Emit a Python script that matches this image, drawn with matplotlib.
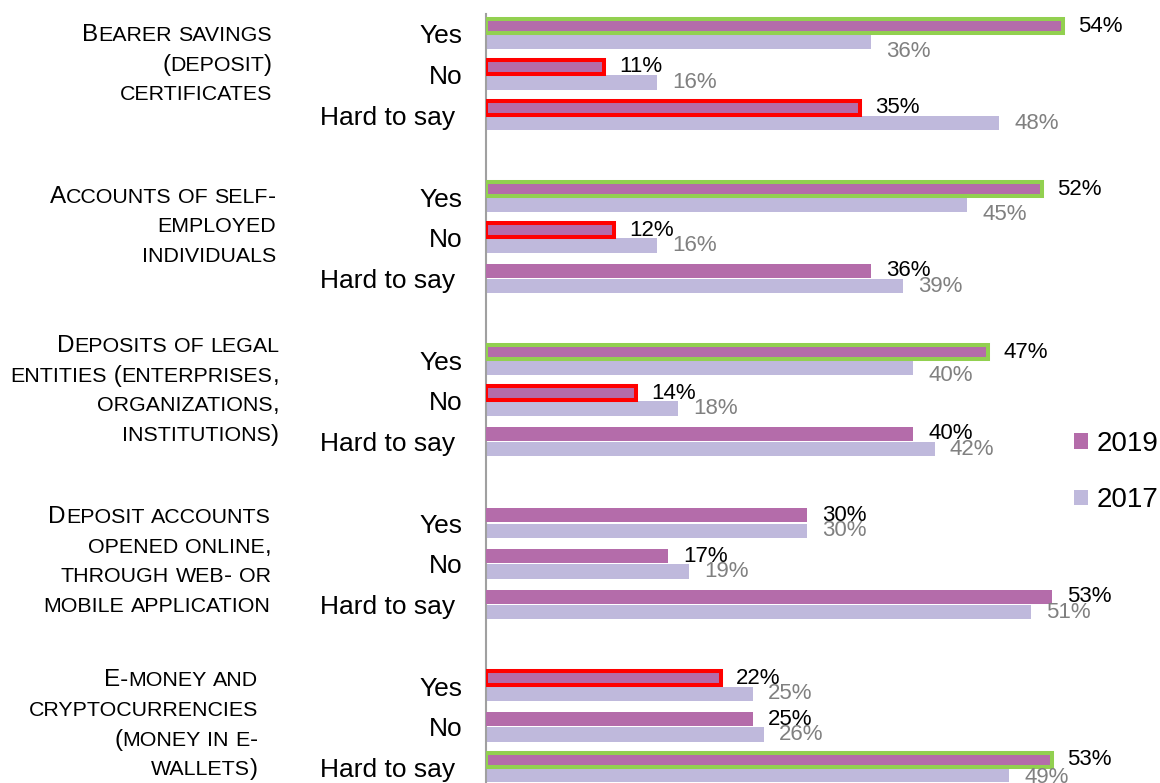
import matplotlib
matplotlib.use("Agg")
import matplotlib.pyplot as plt
from matplotlib.offsetbox import TextArea, HPacker, AnnotationBbox
from matplotlib.transforms import blended_transform_factory
from matplotlib.patches import Patch

# ---------------- data ----------------
categories = [
    "Bearer savings\n(deposit)\ncertificates",
    "Accounts of self-\nemployed\nindividuals",
    "Deposits of legal\nentities (enterprises,\norganizations,\ninstitutions)",
    "Deposit accounts\nopened online,\nthrough web- or\nmobile application",
    "E-money and\ncryptocurrencies\n(money in e-\nwallets)",
]
answers = ["Yes", "No", "Hard to say "]
values_2019 = [54, 11, 35, 52, 12, 36, 47, 14, 40, 30, 17, 53, 22, 25, 53]
values_2017 = [36, 16, 48, 45, 16, 39, 40, 18, 42, 30, 19, 51, 25, 26, 49]
highlight_2019 = ["g", "r", "r", "g", "r", None, "g", "r", None,
                  None, None, None, "r", None, "g"]
series_names = ["2019", "2017"]

# ---------------- style / layout ----------------
C19 = "#B46CAA"
C17 = "#BFB9DC"
OUT = {"g": "#92D050", "r": "#FF0000", None: "none"}
FONT = "Liberation Sans"
plt.rcParams["font.family"] = [FONT, "DejaVu Sans"]

# label placement tweaks (pixels), as in the reference
lab17_dy = [10, 0, 0, 10, 0, 0, 8, 0, 0, 0, 0, 0, 0, 0, 2]
cat_right_px = [272, 276, 279, 271, 258]
cat_shift = [-0.25, -0.27, -0.25, -0.06, -0.05]

W, H = 1160, 783
fig = plt.figure(figsize=(W / 100, H / 100), dpi=100)
ax = fig.add_axes([486 / W, (H - 788) / H, 641 / W, (788 - 13.6) / H])

slots = []
for g in range(len(categories)):
    for r in range(len(answers)):
        slots.append(g * 4 + r)

off, bh = 0.19, 0.35
y19 = [s - off for s in slots]
y17 = [s + off for s in slots]

ax.barh(y17, values_2017, height=bh, color=C17, linewidth=0, zorder=2)
ax.barh(y19, values_2019, height=bh, color=C19,
        edgecolor=[OUT[h] for h in highlight_2019],
        linewidth=[2.9 if h else 0 for h in highlight_2019], zorder=3)

ax.set_xlim(0, 60)
ax.set_ylim(18.5, -0.5)
ax.set_xticks([])
ax.set_yticks(slots)
ax.set_yticklabels(answers * len(categories), fontsize=19)
ax.tick_params(axis="y", length=0, pad=17)
for s in ["top", "right", "bottom"]:
    ax.spines[s].set_visible(False)
ax.spines["left"].set_color("#A0A0A0")
ax.spines["left"].set_linewidth(1.5)
ax.patch.set_alpha(0)

# value labels
for v, y in zip(values_2019, y19):
    ax.annotate(f"{v}%", (v, y), xytext=(11, 0), textcoords="offset points",
                ha="left", va="center", fontsize=16, color="black", zorder=5)
for v, y, d in zip(values_2017, y17, lab17_dy):
    ax.annotate(f"{v}%", (v, y), xytext=(11, -d * 0.72),
                textcoords="offset points",
                ha="left", va="center", fontsize=16, color="#808080", zorder=5)

# small-caps category labels
BIG, SMALL = 17.5, 15.4


def smallcaps_line(line):
    segs = []
    for ch in line:
        small = ch.islower()
        t = ch.upper() if small else ch
        if segs and segs[-1][1] == small:
            segs[-1][0] += t
        else:
            segs.append([t, small])
    kids = [TextArea(t, textprops=dict(fontsize=SMALL if sm else BIG,
                                       family=FONT, color="black"))
            for t, sm in segs]
    return HPacker(children=kids, align="baseline", pad=0, sep=0)


trans = blended_transform_factory(fig.transFigure, ax.transData)
pitch = 21.3  # points between lines
for g, cat in enumerate(categories):
    lines = cat.split("\n")
    n = len(lines)
    yc = g * 4 + 1 + cat_shift[g]
    for i, ln in enumerate(lines):
        dy = ((n - 1) / 2 - i) * pitch
        ab = AnnotationBbox(smallcaps_line(ln), (cat_right_px[g] / W, yc),
                            xycoords=trans, xybox=(0, dy),
                            boxcoords="offset points",
                            box_alignment=(1, 0.5), frameon=False, pad=0,
                            annotation_clip=False)
        fig.add_artist(ab)

# legend
handles = [Patch(facecolor=C19, edgecolor="none"),
           Patch(facecolor=C17, edgecolor="none")]
fig.legend(handles, series_names, loc="center left",
           bbox_to_anchor=(1074 / W, 1 - 472 / H), frameon=False,
           fontsize=20, handlelength=0.5, handleheight=0.5,
           handletextpad=0.3, labelspacing=1.1, borderpad=0,
           borderaxespad=0)

fig.savefig("out.png", dpi=100)
